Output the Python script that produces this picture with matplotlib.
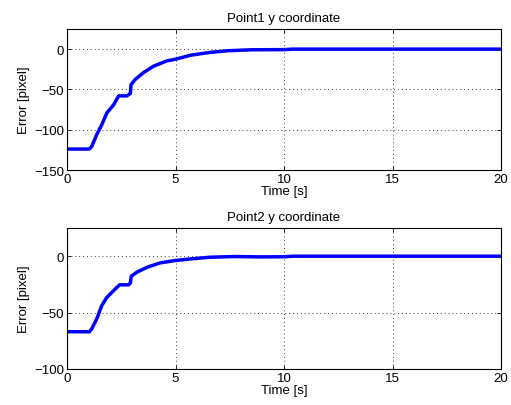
import matplotlib.pyplot as plt

plt.rcParams['font.family'] = ['Liberation Sans', 'DejaVu Sans']
plt.rcParams['font.size'] = 9.5

# point 1 error (y coordinate)
t1 = [0, 1.03, 1.14, 1.37, 1.6, 1.84, 2.15, 2.38, 2.76, 2.92, 2.95, 3.15, 3.53,
      4.0, 4.6, 5.0, 5.7, 6.6, 7.4, 8.5, 10.0, 10.4, 20]
e1 = [-124, -124, -120.8, -106, -94, -79, -69, -58, -58, -55, -44, -37.5, -29,
      -21, -14.6, -12.5, -7.5, -4, -2, -0.8, -0.6, 0, 0]

# point 2 error (y coordinate)
t2 = [0, 1.03, 1.14, 1.37, 1.6, 1.84, 2.15, 2.42, 2.84, 2.92, 2.96, 3.22, 3.69,
      4.3, 5.0, 5.7, 6.6, 7.7, 8.9, 10.0, 10.4, 20]
e2 = [-66.9, -67, -64.5, -55.6, -43.8, -36.4, -30.5, -25.4, -25.4, -23.7, -17.8,
      -14.2, -9.8, -5.9, -3.8, -2.4, -0.9, -0.3, -0.6, -0.5, 0, 0]

fig = plt.figure(figsize=(5.11, 4.06), dpi=100)
ax1 = fig.add_axes([67/511, 1 - 171/406, 434/511, 141/406])
ax2 = fig.add_axes([67/511, 1 - 370/406, 434/511, 141/406])

for ax, t, e, title, ylim, yticks in [
        (ax1, t1, e1, "Point1 y coordinate", (-150, 25), [-150, -100, -50, 0]),
        (ax2, t2, e2, "Point2 y coordinate", (-100, 25), [-100, -50, 0])]:
    ax.plot(t, e, color=(0, 0, 1), lw=2.5)
    ax.set_xlim(0, 20)
    ax.set_ylim(*ylim)
    ax.set_xticks([0, 5, 10, 15, 20])
    ax.set_yticks(yticks)
    ax.grid(True, linestyle=(0, (1, 3)), color='0.25', lw=0.7)
    ax.tick_params(direction='in', top=True, right=True, length=3, width=0.6, pad=2)
    for s in ax.spines.values():
        s.set_linewidth(0.8)
    ax.set_title(title, fontsize=9.5, pad=6)
    ax.set_xlabel("Time [s]", labelpad=0)
    ax.set_ylabel("Error [pixel]", labelpad=3)

fig.savefig("out.png", dpi=100)
